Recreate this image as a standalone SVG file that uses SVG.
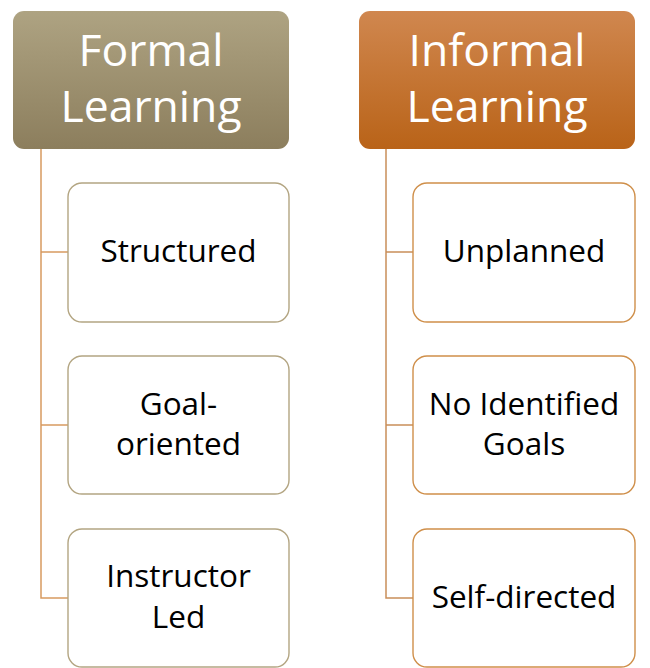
<svg xmlns="http://www.w3.org/2000/svg" width="650" height="668" viewBox="0 0 650 668">
<defs>
<linearGradient id="gL" x1="0" y1="0" x2="0" y2="1"><stop offset="0" stop-color="#aea382"/><stop offset="1" stop-color="#8c7e5d"/></linearGradient>
<linearGradient id="gR" x1="0" y1="0" x2="0" y2="1"><stop offset="0" stop-color="#d0874f"/><stop offset="1" stop-color="#b96318"/></linearGradient>
<style>
.hd{font-family:"Open Sans","Liberation Sans",sans-serif;font-size:44.5px;fill:#fff;text-anchor:middle}
.ch{font-family:"Open Sans","Liberation Sans",sans-serif;font-size:31.5px;fill:#000;text-anchor:middle}
.bL{fill:#fff;stroke:#b3a582;stroke-width:1.4}
.bR{fill:#fff;stroke:#cf8f4a;stroke-width:1.4}
.cL{fill:none;stroke:#d79a60;stroke-width:1.5}
.cR{fill:none;stroke:#c98f5a;stroke-width:1.5}
</style>
</defs>
<g id="connectors">
<path class="cL" d="M41 149 V598 H68 M41 252 H68 M41 425 H68"/>
<path class="cR" d="M386 149 V598 H413 M386 252 H413 M386 425 H413"/>
</g>
<g id="formal"><rect x="13" y="11" width="276" height="138" rx="11" fill="url(#gL)"/><text class="hd" x="151" y="66">Formal</text><text class="hd" x="151" y="122">Learning</text></g>
<g id="informal"><rect x="359" y="11" width="276" height="138" rx="11" fill="url(#gR)"/><text class="hd" x="497" y="66">Informal</text><text class="hd" x="497" y="122">Learning</text></g>
<g id="structured"><rect class="bL" x="68" y="183" width="221" height="139" rx="14"/><text class="ch" x="178.5" y="262">Structured</text></g>
<g id="goal"><rect class="bL" x="68" y="356" width="221" height="138" rx="14"/><text class="ch" x="178.5" y="415">Goal-</text><text class="ch" x="178.5" y="455">oriented</text></g>
<g id="instructor"><rect class="bL" x="68" y="529" width="221" height="138" rx="14"/><text class="ch" x="178.5" y="587">Instructor</text><text class="ch" x="178.5" y="628">Led</text></g>
<g id="unplanned"><rect class="bR" x="413" y="183" width="222" height="139" rx="14"/><text class="ch" x="524" y="262">Unplanned</text></g>
<g id="noGoals"><rect class="bR" x="413" y="356" width="222" height="138" rx="14"/><text class="ch" x="524" y="415">No Identified</text><text class="ch" x="524" y="455">Goals</text></g>
<g id="self"><rect class="bR" x="413" y="529" width="222" height="138" rx="14"/><text class="ch" x="524" y="608">Self-directed</text></g>
</svg>
